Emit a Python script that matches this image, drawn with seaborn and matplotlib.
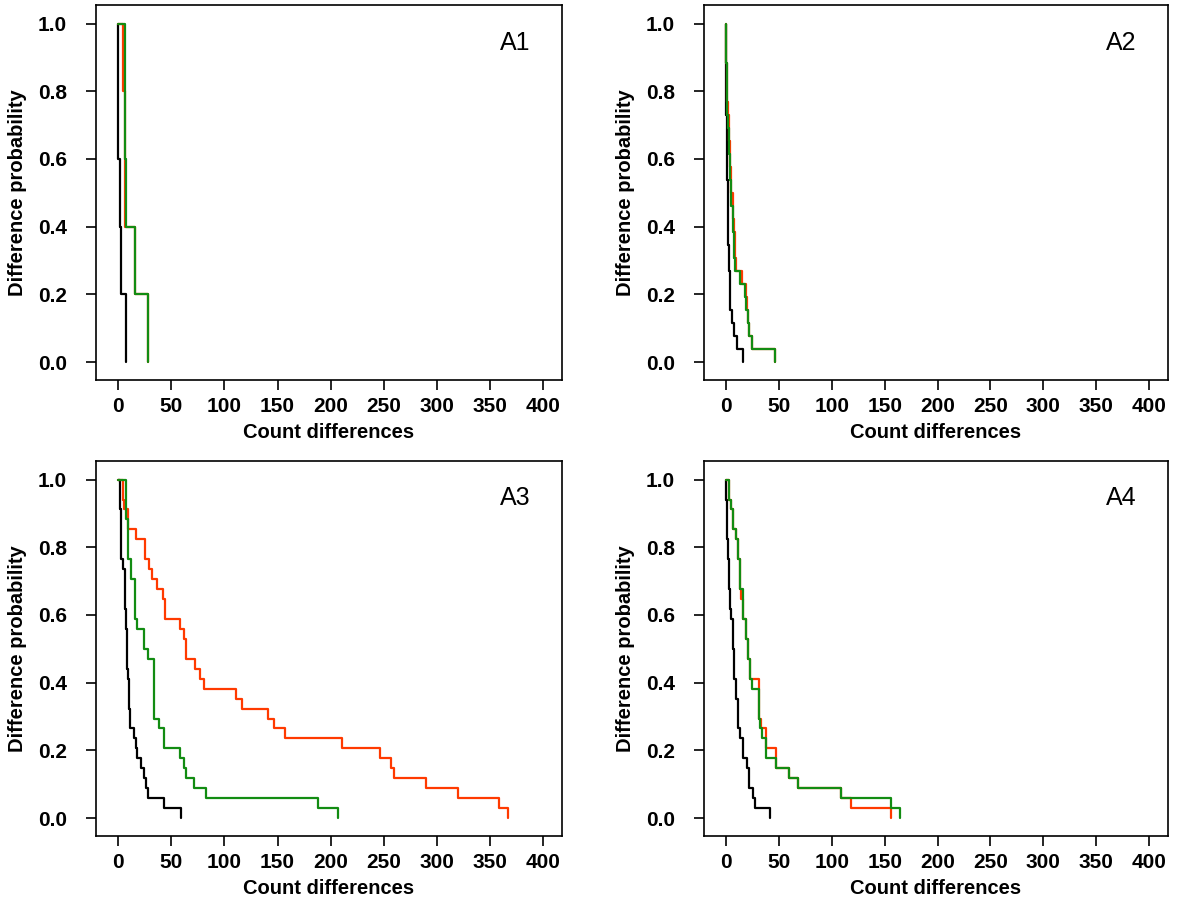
import numpy as np
import pandas as pd
import matplotlib
matplotlib.use("Agg")
import matplotlib.pyplot as plt
import seaborn as sns

panels = ["A1", "A2", "A3", "A4"]

a1_black = [0, 0, 2, 3, 7]
a1_red = [4, 6, 6, 16, 28]
a1_green = [6, 6, 7, 16, 28]

a2_black = [0, 0, 0, 0, 0, 0, 0, 1, 1, 1, 1, 1, 2, 2, 2, 2, 2, 3, 3, 4, 4, 4, 5.5, 7, 10, 15.5]
a2_red = [0, 0, 0, 1, 1, 1, 2, 3, 3, 4, 4, 5, 5, 6, 6, 7, 8, 8, 9, 15, 19, 20, 21, 22, 24, 46]
a2_green = [0, 0, 0, 1, 1, 1, 1, 2, 3, 3, 4, 4, 5, 5, 6, 6, 7, 7, 8, 13, 18, 19, 21, 22, 24, 46]

a3_black = [2, 2, 2, 2.5, 2.5, 2.5, 2.5, 2.5, 4, 6, 6, 6, 6, 7, 7, 8, 8, 8, 8, 9, 10, 10, 10,
            11, 11, 14.5, 17, 18, 21, 24, 26, 28, 43, 59]
a3_red = [4, 4, 5, 9, 9, 17, 25, 25, 29, 32, 36, 42, 44, 44, 58, 62, 64, 64, 72, 77, 81, 111,
          117, 141, 147, 157, 211, 247, 257, 260, 290, 320, 359, 367]
a3_green = [7, 7, 7, 7, 9, 9, 9, 9, 12, 12, 16, 16, 16, 16, 18, 24, 24, 28, 34, 34, 34, 34, 34,
            34, 38, 43, 43, 58, 62, 64, 71, 83, 188, 207]

a4_black = [0, 0, 0.3, 0.3, 0.3, 0.3, 2, 2, 3, 3, 3, 3.5, 3.5, 5, 6.6, 6.6, 6.6, 7.6, 7.6, 7.6,
            9, 9, 10.7, 10.7, 10.7, 13, 16, 16, 20, 22, 22, 25, 27, 41]
a4_red = [2.5, 2.5, 5, 6.6, 6.6, 9, 10.7, 10.7, 13, 13, 13, 14, 16, 16, 19, 19, 21, 21, 22.4,
          22.4, 31, 31, 31, 31, 33, 38, 38, 47, 47, 59, 68, 109, 118, 156]
a4_green = [2.5, 2.5, 5, 6.6, 6.6, 9, 10.7, 10.7, 13, 13, 13, 16, 16, 16, 19, 19, 21, 21, 22.4,
            22.4, 24, 31, 31, 31, 32, 34, 38, 38, 47, 59, 68, 109, 156, 164]

series_names = ["black", "red", "green"]
panel_data = {
    "A1": [a1_black, a1_red, a1_green],
    "A2": [a2_black, a2_red, a2_green],
    "A3": [a3_black, a3_red, a3_green],
    "A4": [a4_black, a4_red, a4_green],
}

x_ticks = [0, 50, 100, 150, 200, 250, 300, 350, 400]
y_ticks = [0.0, 0.2, 0.4, 0.6, 0.8, 1.0]
x_label = "Count differences"
y_label = "Difference probability"

colors = {"black": "#000000", "red": "#ff3a00", "green": "#128c12"}


def survival_frame(obs):
    obs = np.sort(np.asarray(obs, dtype=float))
    n = len(obs)
    xs = np.r_[0.0, obs]
    ys = np.r_[1.0, 1.0 - np.arange(1, n + 1) / n]
    return pd.DataFrame({"x": xs, "y": ys})


sns.set_style("ticks")
plt.rcParams["font.family"] = ["Liberation Sans", "DejaVu Sans"]
plt.rcParams["text.color"] = "black"
plt.rcParams["axes.labelcolor"] = "black"
plt.rcParams["xtick.color"] = "black"
plt.rcParams["ytick.color"] = "black"

fig = plt.figure(figsize=(12, 9), dpi=100)
positions = {
    "A1": [96 / 1200, 1 - 380 / 900, 466 / 1200, 375 / 900],
    "A2": [704 / 1200, 1 - 380 / 900, 464 / 1200, 375 / 900],
    "A3": [96 / 1200, 1 - 836 / 900, 466 / 1200, 375 / 900],
    "A4": [704 / 1200, 1 - 836 / 900, 464 / 1200, 375 / 900],
}

for name in panels:
    ax = fig.add_axes(positions[name])
    for sname, obs in zip(series_names, panel_data[name]):
        df = survival_frame(obs)
        sns.lineplot(data=df, x="x", y="y", ax=ax, sort=False, estimator=None,
                     drawstyle="steps-post", color=colors[sname], linewidth=1.6)
    ax.set_xlim(-21, 418)
    ax.set_ylim(-0.053, 1.055)
    ax.set_xticks(x_ticks)
    ax.set_yticks(y_ticks)
    ax.set_yticklabels([f"{v:.1f}" for v in y_ticks])
    ax.tick_params(axis="both", direction="out", length=7, width=1.2,
                   labelsize=15, colors="black")
    ax.tick_params(axis="y", pad=14)
    ax.tick_params(axis="x", pad=5)
    for lab in ax.get_xticklabels() + ax.get_yticklabels():
        lab.set_fontweight("bold")
    for sp in ax.spines.values():
        sp.set_visible(True)
        sp.set_linewidth(1.2)
        sp.set_color("black")
    ax.set_xlabel(x_label, fontsize=14.5, fontweight="bold", labelpad=5, color="black")
    ax.set_ylabel(y_label, fontsize=14.5, fontweight="bold", labelpad=8, color="black")
    ax.text(0.9, 0.9, name, transform=ax.transAxes, fontsize=18,
            ha="center", va="center", color="black")
    ax.grid(False)

fig.savefig("out.png", dpi=100)
